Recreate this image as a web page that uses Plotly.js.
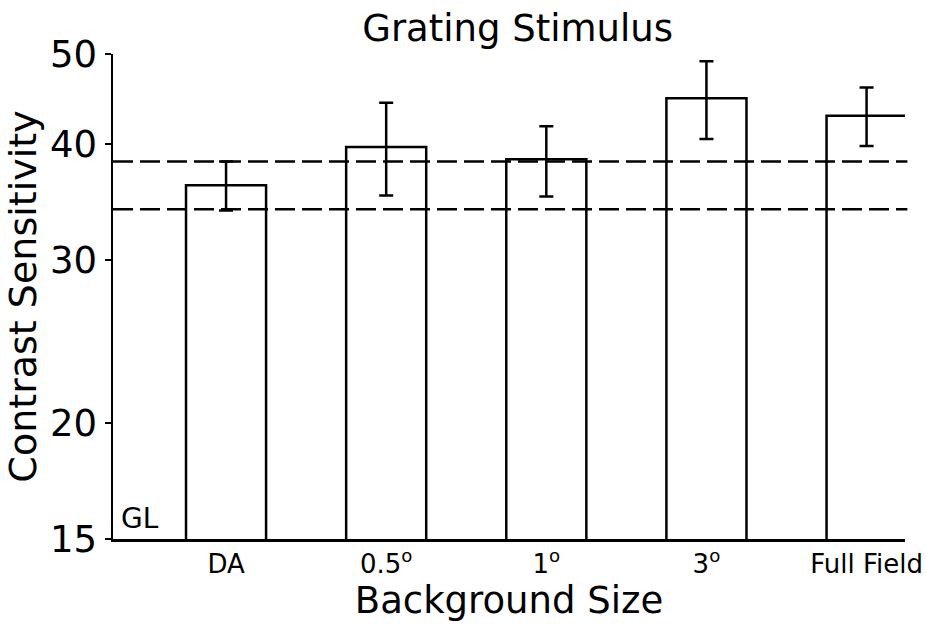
<!DOCTYPE html>
<html>
<head>
<meta charset="utf-8">
<script src="https://cdn.plot.ly/plotly-3.0.1.min.js"></script>
<style>html,body{margin:0;padding:0;background:#fff;}#chart{width:926px;height:632px;}</style>
</head>
<body>
<div id="chart"></div>
<script>
// Data
var categories = ["DA", "0.5°", "1°", "3°", "Full Field"];
var tickLabels = ["DA", "0.5<sup>o</sup>", "1<sup>o</sup>", "3<sup>o</sup>", "Full Field"];
var sensitivity = [36.1, 39.7, 38.5, 44.8, 42.9];
var errorTop = [38.3, 44.3, 41.8, 49.1, 46.0];
var errorBottom = [33.9, 35.2, 35.1, 40.5, 39.8];
var referenceLevels = [38.3, 34.0];
var yTickValues = [15, 20, 30, 40, 50];

var xIdx = categories.map(function (c, i) { return i; });
var plus = sensitivity.map(function (v, i) { return errorTop[i] - v; });
var minus = sensitivity.map(function (v, i) { return v - errorBottom[i]; });

var FONT = "DejaVu Sans, sans-serif";

var traces = [{
  type: "bar",
  x: xIdx,
  y: sensitivity,
  width: 0.5,
  marker: { color: "#ffffff", line: { color: "#000000", width: 2.5 } },
  error_y: {
    type: "data", symmetric: false, array: plus, arrayminus: minus,
    color: "#000000", thickness: 2.5, width: 7
  },
  hoverinfo: "x+y"
}];

var shapes = referenceLevels.map(function (lv) {
  return {
    type: "line", xref: "paper", yref: "y", x0: 0, x1: 1.003, y0: lv, y1: lv,
    line: { color: "#000000", width: 2.5, dash: "20px,7px" }, layer: "above"
  };
});

var layout = {
  width: 926, height: 632,
  margin: { l: 113, r: 21, t: 54, b: 93 },
  paper_bgcolor: "#ffffff", plot_bgcolor: "#ffffff",
  showlegend: false,
  font: { family: FONT, color: "#000000" },
  title: {
    text: "Grating Stimulus",
    font: { family: FONT, size: 37, color: "#000000" },
    xref: "container", x: 0.559, xanchor: "center",
    yref: "container", y: 0.955, yanchor: "middle"
  },
  xaxis: {
    range: [-0.706, 4.24],
    tickmode: "array", tickvals: xIdx, ticktext: tickLabels,
    ticks: "", showgrid: false, zeroline: false,
    showline: true, linecolor: "#000000", linewidth: 2.5,
    tickfont: { family: FONT, size: 26, color: "#000000" },
    title: { text: "Background Size", font: { family: FONT, size: 37, color: "#000000" }, standoff: 8 }
  },
  yaxis: {
    type: "log",
    range: [Math.log10(15), Math.log10(50)],
    tickmode: "array", tickvals: yTickValues, ticktext: yTickValues.map(String),
    ticks: "outside", ticklen: 6, tickwidth: 2, tickcolor: "#000000",
    showgrid: false, zeroline: false,
    showline: true, linecolor: "#000000", linewidth: 2.5,
    tickfont: { family: FONT, size: 37, color: "#000000" },
    title: { text: "Contrast Sensitivity", font: { family: FONT, size: 38, color: "#000000" }, standoff: 2 }
  },
  shapes: shapes,
  annotations: [{
    text: "GL", xref: "paper", yref: "paper", x: 0.008, y: 0.004,
    xanchor: "left", yanchor: "bottom", showarrow: false,
    font: { family: FONT, size: 28, color: "#000000" }
  }]
};

Plotly.newPlot("chart", traces, layout, { displayModeBar: false, staticPlot: true });
</script>
</body>
</html>
